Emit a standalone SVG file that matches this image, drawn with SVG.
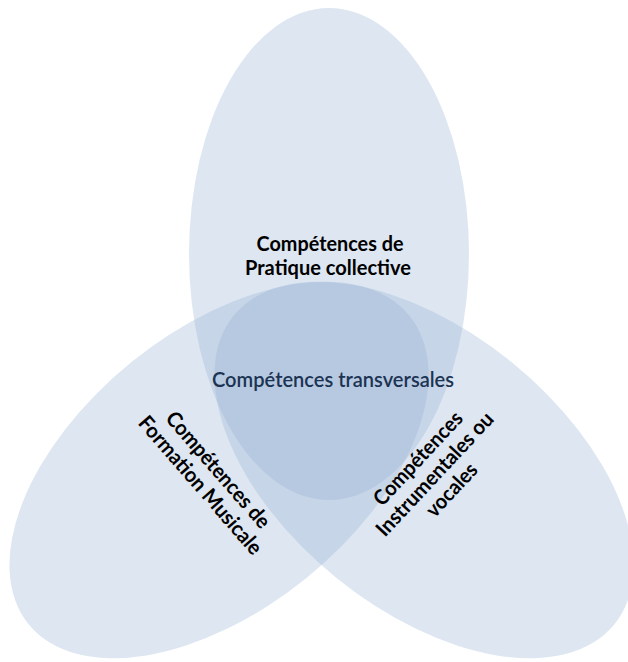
<svg xmlns="http://www.w3.org/2000/svg" width="628" height="662" viewBox="0 0 628 662">
  <style>
    .petal { fill: rgb(150,178,213); fill-opacity: 0.32; stroke: none; }
    .lbl { font-family: Lato, "Liberation Sans", "DejaVu Sans", sans-serif; font-size: 21px; font-weight: bold; fill: #000; text-anchor: middle; }
    .mid { font-family: Lato, "Liberation Sans", "DejaVu Sans", sans-serif; font-size: 21px; font-weight: 600; fill: #1c3353; text-anchor: middle; }
  </style>
  <rect width="628" height="662" fill="#ffffff"/>
  <g id="node-top">
    <ellipse class="petal" cx="329" cy="254" rx="140" ry="246"/>
  </g>
  <g id="node-left">
    <ellipse class="petal" cx="219" cy="470" rx="245" ry="139" transform="rotate(-39 219 470)"/>
  </g>
  <g id="node-right">
    <ellipse class="petal" cx="424" cy="470" rx="245" ry="139" transform="rotate(39 424 470)"/>
  </g>
  <g id="label-top">
    <text class="lbl" x="330" y="251" textLength="147" lengthAdjust="spacingAndGlyphs">Compétences de</text>
    <text class="lbl" x="328" y="275" textLength="166" lengthAdjust="spacingAndGlyphs">Pratique collective</text>
  </g>
  <g id="node-center">
    <text class="mid" x="333" y="387" textLength="242" lengthAdjust="spacingAndGlyphs">Compétences transversales</text>
  </g>
  <g id="label-left" transform="translate(195 490) rotate(49)">
    <text class="lbl" x="0" y="-23.5" textLength="147" lengthAdjust="spacingAndGlyphs">Compétences de</text>
    <text class="lbl" x="0" y="0" textLength="176" lengthAdjust="spacingAndGlyphs">Formation Musicale</text>
  </g>
  <g id="label-right" transform="translate(440 479) rotate(-47)">
    <text class="lbl" x="0" y="-23" textLength="120" lengthAdjust="spacingAndGlyphs">Compétences</text>
    <text class="lbl" x="0" y="0" textLength="161" lengthAdjust="spacingAndGlyphs">Instrumentales ou</text>
    <text class="lbl" x="0" y="23" textLength="65" lengthAdjust="spacingAndGlyphs">vocales</text>
  </g>
</svg>
